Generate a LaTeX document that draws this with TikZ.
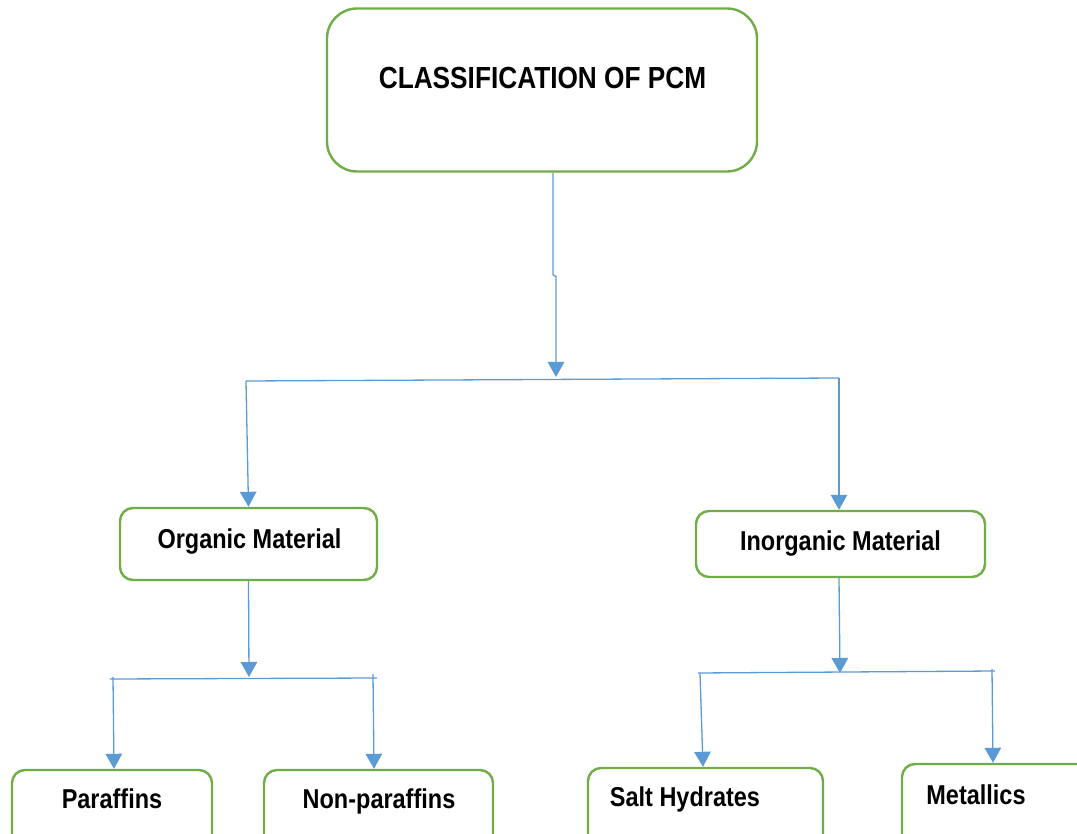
\documentclass[tikz,border=0pt]{standalone}
\usepackage{fontspec}
\setmainfont{Liberation Sans}[FakeStretch=0.86]
\usetikzlibrary{arrows.meta}
\definecolor{boxgreen}{HTML}{70AD47}
\definecolor{linkblue}{HTML}{5B9BD5}
\begin{document}
\begin{tikzpicture}[x=1pt,y=-1pt,
  box/.style={draw=boxgreen, line width=2.4pt, rounded corners=13pt, fill=white, inner sep=0pt},
  lbl/.style={font=\bfseries\fontsize{27.3}{30}\selectfont, inner sep=0pt, anchor=base},
  conn/.style={draw=linkblue, line width=1.3pt},
  arr/.style={conn, -{Triangle[width=16.5pt,length=15pt]}}]
\useasboundingbox (0,0) rectangle (1077,834);
\clip (0,0) rectangle (1077,834);
% boxes
\node[box, rounded corners=30pt, minimum width=430pt, minimum height=163pt] (top) at (542,90) {};
\node[lbl, font=\bfseries\fontsize{30.5}{34}\selectfont] (toptxt) at (542.5,89) {CLASSIFICATION OF PCM};
\node[box, minimum width=257pt, minimum height=72pt] (org) at (248.5,544) {};
\node[lbl] (orgtxt) at (249.5,548) {Organic Material};
\node[box, minimum width=289pt, minimum height=66pt] (inorg) at (840.5,544) {};
\node[lbl] (inorgtxt) at (840.5,550) {Inorganic Material};
\node[box, minimum width=200pt, minimum height=90pt] (par) at (112,815) {};
\node[lbl] (partxt) at (112,808) {Paraffins};
\node[box, minimum width=229pt, minimum height=90pt] (nonpar) at (378.5,815) {};
\node[lbl] (nonpartxt) at (379,808) {Non-paraffins};
\node[box, minimum width=235pt, minimum height=92pt] (salt) at (705.5,814) {};
\node[lbl] (salttxt) at (685,806) {Salt Hydrates};
\node[box, minimum width=188pt, minimum height=96pt] (met) at (996,812) {};
\node[lbl] (mettxt) at (976,804) {Metallics};
% junction coordinates
\coordinate (j1) at (556,377);
\coordinate (h1a) at (246,381);
\coordinate (h1b) at (839,378);
\coordinate (j2) at (249,677);
\coordinate (h2a) at (110,679);
\coordinate (h2b) at (377,678);
\coordinate (d2a) at (113,677);
\coordinate (d2b) at (373,674);
\coordinate (j3) at (840,673);
\coordinate (h3a) at (698,673);
\coordinate (h3b) at (995,671);
\coordinate (d3a) at (700,673);
\coordinate (d3b) at (992,669);
% connectors
\draw[arr] ([xshift=11pt]top.south) -- ++(0,102) -- ++(3,2) -- (j1);
\draw[conn] (h1a) -- (h1b);
\draw[arr] (h1a) -- (org.north);
\draw[arr] (h1b) -- (inorg.north -| h1b);
\draw[arr] (org.south) -- (j2);
\draw[conn] (h2a) -- (h2b);
\draw[arr] (d2a) -- ([xshift=2pt]par.north);
\draw[arr] (d2b) -- ([xshift=-4.5pt]nonpar.north);
\draw[arr] ([xshift=-1.5pt]inorg.south) -- (j3);
\draw[conn] (h3a) -- (h3b);
\draw[arr] (d3a) -- ([xshift=-2.5pt]salt.north);
\draw[arr] (d3b) -- ([xshift=-3pt]met.north);
\end{tikzpicture}
\end{document}
